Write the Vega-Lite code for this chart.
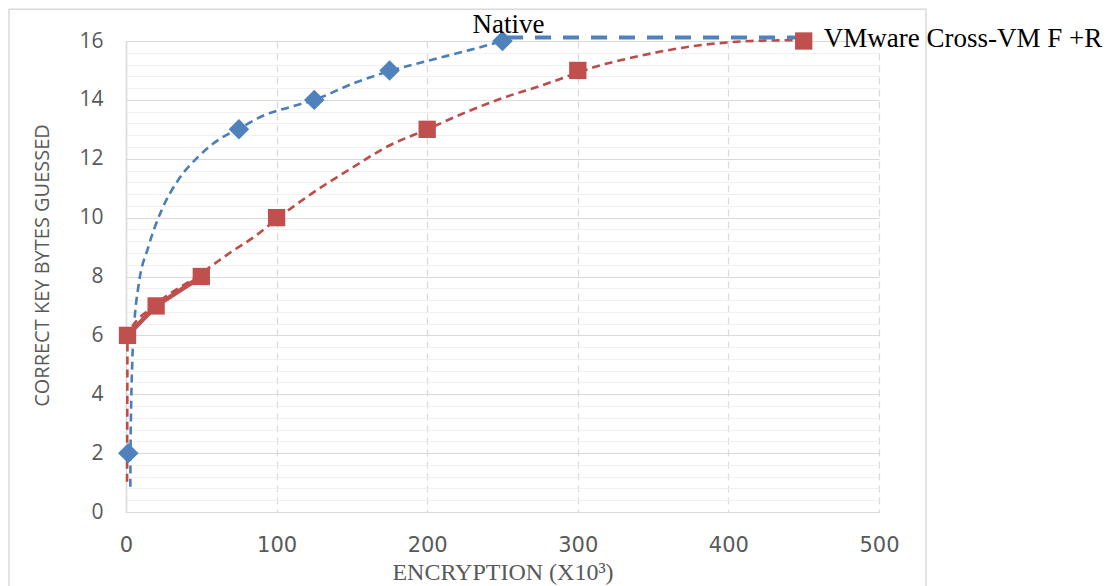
{
  "$schema": "https://vega.github.io/schema/vega-lite/v6.json",
  "width": 753,
  "height": 471,
  "autosize": {"type": "none"},
  "padding": {"left": 126, "top": 41, "right": 230, "bottom": 74},
  "background": "white",
  "config": {"view": {"stroke": null}},
  "datasets": {
    "frame": [
      {"x": -77.7, "x2": 531.2, "y": 17.08, "y2": -4}
    ],
    "native_pts": [
      {"x": 1.5, "y": 2},
      {"x": 75, "y": 13},
      {"x": 125, "y": 14},
      {"x": 175, "y": 15},
      {"x": 250, "y": 16}
    ],
    "vm_pts": [
      {"x": 1, "y": 6},
      {"x": 20, "y": 7},
      {"x": 50, "y": 8},
      {"x": 100, "y": 10},
      {"x": 200, "y": 13},
      {"x": 300, "y": 15},
      {"x": 450, "y": 16}
    ],
    "native_trend": [
      {"x": 2.9, "y": 0.86},
      {"x": 3.0, "y": 2.0},
      {"x": 3.5, "y": 3.8},
      {"x": 4.2, "y": 5.16},
      {"x": 5.5, "y": 6.4},
      {"x": 8.2, "y": 7.65},
      {"x": 14.8, "y": 9.0},
      {"x": 23.7, "y": 10.26},
      {"x": 34.7, "y": 11.28},
      {"x": 48, "y": 12.07},
      {"x": 61.3, "y": 12.64},
      {"x": 75, "y": 13.02},
      {"x": 92.3, "y": 13.49},
      {"x": 110, "y": 13.77},
      {"x": 125, "y": 14.0},
      {"x": 151, "y": 14.56},
      {"x": 175, "y": 14.98},
      {"x": 202, "y": 15.35},
      {"x": 228, "y": 15.69},
      {"x": 250, "y": 16.0}
    ],
    "vm_trend": [
      {"x": 0.7, "y": 1.03},
      {"x": 0.85, "y": 3.5},
      {"x": 1, "y": 6},
      {"x": 20, "y": 7.05},
      {"x": 50, "y": 8.1},
      {"x": 56, "y": 8.33},
      {"x": 70, "y": 8.84},
      {"x": 86, "y": 9.38},
      {"x": 100, "y": 9.95},
      {"x": 124, "y": 10.84},
      {"x": 151, "y": 11.72},
      {"x": 173, "y": 12.4},
      {"x": 200, "y": 13.0},
      {"x": 229, "y": 13.65},
      {"x": 250, "y": 14.06},
      {"x": 273, "y": 14.44},
      {"x": 300, "y": 14.92},
      {"x": 310, "y": 15.1},
      {"x": 333, "y": 15.4},
      {"x": 355, "y": 15.64},
      {"x": 377, "y": 15.83},
      {"x": 399, "y": 15.95},
      {"x": 421, "y": 16.01},
      {"x": 450, "y": 16.03}
    ],
    "native_line": [
      {"x": 253, "y": 16.12},
      {"x": 450, "y": 16.12}
    ],
    "labels_native": [
      {"x": 250, "y": 16, "label": "Native"}
    ],
    "labels_vm": [
      {"x": 450, "y": 16, "label": "VMware Cross-VM F +R"}
    ]
  },
  "encoding": {
    "x": {
      "field": "x",
      "type": "quantitative",
      "scale": {"domain": [0, 500], "nice": false, "zero": false},
      "axis": {
        "values": [0, 100, 200, 300, 400, 500],
        "title": "ENCRYPTION (X10³)",
        "titleFont": "Liberation Serif",
        "titleFontSize": 24,
        "titleFontWeight": "normal",
        "titleColor": "#595959",
        "titleBaseline": "alphabetic",
        "titleY": 67,
        "labelFont": "DejaVu Sans",
        "labelFontSize": 21,
        "labelColor": "#595959",
        "labelBaseline": "alphabetic",
        "labelPadding": 39,
        "labelFlush": false,
        "labelOverlap": false,
        "ticks": false,
        "domain": false,
        "grid": true,
        "gridColor": "#D9D9D9",
        "gridDash": [7, 5],
        "gridWidth": 1.2
      }
    },
    "y": {
      "field": "y",
      "type": "quantitative",
      "scale": {"domain": [0, 16], "nice": false, "zero": false},
      "axis": {
        "values": [0, 0.4, 0.8, 1.2, 1.6, 2, 2.4, 2.8, 3.2, 3.6, 4, 4.4, 4.8, 5.2, 5.6, 6, 6.4, 6.8, 7.2, 7.6, 8, 8.4, 8.8, 9.2, 9.6, 10, 10.4, 10.8, 11.2, 11.6, 12, 12.4, 12.8, 13.2, 13.6, 14, 14.4, 14.8, 15.2, 15.6, 16],
        "labelExpr": "datum.value % 2 === 0 ? format(datum.value, 'd') : ''",
        "labelOverlap": false,
        "labelFlush": false,
        "labelBound": false,
        "labelFont": "Open Sans",
        "labelFontSize": 21,
        "labelColor": "#595959",
        "labelPadding": 23,
        "ticks": false,
        "domain": true,
        "domainColor": "#D9D9D9",
        "domainWidth": 1.5,
        "grid": true,
        "gridColor": {"condition": {"test": "datum.value % 2 === 0", "value": "#D9D9D9"}, "value": "#F0F0F0"},
        "gridWidth": 1.2,
        "title": "CORRECT KEY BYTES GUESSED",
        "titleFont": "Open Sans",
        "titleFontSize": 20,
        "titleFontWeight": "normal",
        "titleColor": "#595959",
        "titleAngle": -90,
        "titleAlign": "center",
        "titleBaseline": "middle",
        "titleX": -84,
        "titleY": 224
      }
    }
  },
  "layer": [
    {
      "data": {"name": "frame"},
      "mark": {"type": "rect", "fill": null, "fillOpacity": 0, "stroke": "#D9D9D9", "strokeWidth": 1.5},
      "encoding": {
        "x2": {"field": "x2"},
        "y2": {"field": "y2"}
      }
    },
    {
      "data": {"name": "native_trend"},
      "mark": {"type": "line", "color": "#4A7EBB", "strokeWidth": 2.6, "strokeDash": [8, 5], "interpolate": "monotone"}
    },
    {
      "data": {"name": "vm_trend"},
      "mark": {"type": "line", "color": "#BE4B48", "strokeWidth": 2.6, "strokeDash": [8, 5], "interpolate": "monotone"}
    },
    {
      "data": {"name": "vm_pts"},
      "transform": [{"filter": "datum.x <= 50"}],
      "mark": {"type": "line", "color": "#C0504D", "strokeWidth": 4.5}
    },
    {
      "data": {"name": "native_line"},
      "mark": {"type": "line", "color": "#4F81BD", "strokeWidth": 4, "strokeDash": [16, 12]}
    },
    {
      "data": {"name": "native_pts"},
      "mark": {"type": "point", "shape": "diamond", "filled": true, "size": 420, "color": "#4F81BD", "opacity": 1}
    },
    {
      "data": {"name": "vm_pts"},
      "mark": {"type": "point", "shape": "square", "filled": true, "size": 300, "color": "#C0504D", "opacity": 1}
    },
    {
      "data": {"name": "labels_native"},
      "mark": {"type": "text", "font": "Liberation Serif", "fontSize": 27, "color": "#000000", "align": "center", "baseline": "alphabetic", "dx": 6, "dy": -8},
      "encoding": {"text": {"field": "label"}}
    },
    {
      "data": {"name": "labels_vm"},
      "mark": {"type": "text", "font": "Liberation Serif", "fontSize": 27, "color": "#000000", "align": "left", "baseline": "alphabetic", "dx": 20, "dy": 6},
      "encoding": {"text": {"field": "label"}}
    }
  ]
}
